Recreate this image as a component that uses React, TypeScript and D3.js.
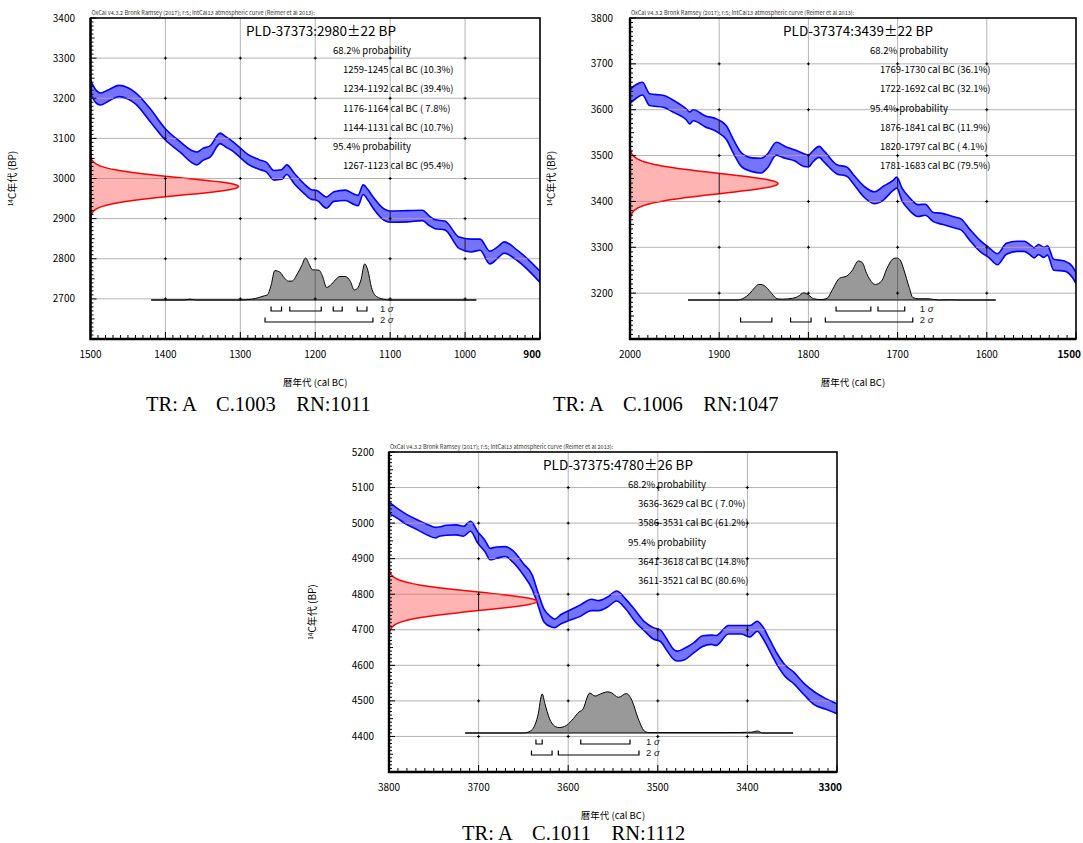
import { useEffect, useRef } from 'react';
import * as d3 from 'd3';

// ---- shared text ----
const headerText = 'OxCal v4.3.2 Bronk Ramsey (2017); r:5; IntCal13 atmospheric curve (Reimer et al 2013):';
const xAxisTitle = '暦年代 (cal BC)';

// ---- panel 1 : PLD-37373 ----
const p1Title = 'PLD-37373:2980±22 BP';
const p1Date = { mean: 2980, sd: 22 };
const p1Prob68 = ['1259-1245 cal BC (10.3%)', '1234-1192 cal BC (39.4%)', '1176-1164 cal BC ( 7.8%)', '1144-1131 cal BC (10.7%)'];
const p1Prob95 = ['1267-1123 cal BC (95.4%)'];
const p1Sigma1 = [[1259, 1245], [1234, 1192], [1176, 1164], [1144, 1131]];
const p1Sigma2 = [[1267, 1123]];
const p1Caption = 'TR: A    C.1003    RN:1011';
const p1CurveYears = [1500, 1493, 1487, 1475, 1462, 1450, 1440, 1420, 1400, 1380, 1365, 1358, 1350, 1340, 1327, 1320, 1310, 1300, 1290, 1275, 1265, 1255, 1245, 1238, 1228, 1215, 1205, 1198, 1185, 1175, 1160, 1148, 1143, 1136, 1130, 1122, 1108, 1100, 1077, 1057, 1048, 1040, 1027, 1008, 992, 980, 967, 955, 948, 930, 900];
const p1CurveMid = [3228, 3205, 3198, 3208, 3218, 3212, 3200, 3157, 3110, 3078, 3055, 3050, 3060, 3068, 3100, 3092, 3080, 3064, 3048, 3035, 3028, 3008, 3010, 3022, 3000, 2975, 2960, 2958, 2940, 2955, 2958, 2948, 2945, 2972, 2960, 2938, 2910, 2905, 2906, 2908, 2895, 2886, 2883, 2840, 2833, 2835, 2803, 2818, 2828, 2808, 2755];
const p1CurveErr = [17, 16, 15, 14, 14, 14, 14, 16, 14, 13, 15, 16, 15, 14, 13, 13, 12, 12, 12, 12, 12, 12, 12, 12, 13, 12, 12, 12, 14, 12, 13, 13, 13, 12, 13, 14, 14, 14, 14, 13, 12, 11, 11, 14, 16, 14, 16, 14, 14, 13, 14];
const p1PostYears = [1419, 1375, 1367, 1360, 1300, 1285, 1275, 1268, 1264, 1259, 1254, 1247, 1241, 1236, 1231, 1224, 1218, 1213, 1208, 1204, 1195, 1190, 1185, 1178, 1172, 1167, 1160, 1153, 1148, 1144, 1139, 1134, 1130, 1125, 1118, 1109, 1100, 985];
const p1PostDens = [0, 0, 0.02, 0, 0, 0.02, 0.06, 0.1, 0.12, 0.35, 0.7, 0.66, 0.52, 0.45, 0.45, 0.62, 0.82, 1.0, 0.85, 0.72, 0.71, 0.55, 0.3, 0.38, 0.5, 0.56, 0.56, 0.44, 0.24, 0.27, 0.48, 0.86, 0.72, 0.3, 0.08, 0.02, 0, 0];

// ---- panel 2 : PLD-37374 ----
const p2Title = 'PLD-37374:3439±22 BP';
const p2Date = { mean: 3439, sd: 22 };
const p2Prob68 = ['1769-1730 cal BC (36.1%)', '1722-1692 cal BC (32.1%)'];
const p2Prob95 = ['1876-1841 cal BC (11.9%)', '1820-1797 cal BC ( 4.1%)', '1781-1683 cal BC (79.5%)'];
const p2Sigma1 = [[1769, 1730], [1722, 1692]];
const p2Sigma2 = [[1876, 1841], [1820, 1797], [1781, 1683]];
const p2Caption = 'TR: A    C.1006    RN:1047';
const p2CurveYears = [2000, 1993, 1986, 1978, 1962, 1950, 1937, 1933, 1929, 1916, 1902, 1892, 1884, 1875, 1863, 1853, 1846, 1836, 1826, 1815, 1805, 1800, 1795, 1788, 1782, 1768, 1757, 1749, 1737, 1726, 1716, 1705, 1701, 1695, 1687, 1677, 1669, 1660, 1650, 1638, 1629, 1619, 1607, 1598, 1588, 1578, 1566, 1558, 1550, 1547, 1542, 1536, 1532, 1525, 1513, 1504, 1500];
const p2CurveMid = [3629, 3640, 3646, 3622, 3618, 3606, 3590, 3582, 3588, 3575, 3565, 3550, 3520, 3491, 3480, 3478, 3488, 3515, 3507, 3500, 3490, 3488, 3498, 3508, 3497, 3470, 3465, 3447, 3420, 3408, 3418, 3435, 3441, 3415, 3395, 3380, 3382, 3366, 3362, 3355, 3350, 3327, 3302, 3289, 3274, 3297, 3302, 3302, 3292, 3288, 3295, 3289, 3293, 3262, 3259, 3246, 3233];
const p2CurveErr = [15, 15, 14, 13, 13, 13, 12, 13, 12, 12, 14, 15, 15, 15, 15, 16, 15, 14, 13, 12, 14, 13, 12, 12, 12, 10, 10, 10, 12, 13, 15, 11, 12, 14, 14, 13, 12, 10, 12, 12, 12, 12, 12, 11, 12, 12, 11, 11, 11, 11, 11, 11, 10, 12, 11, 12, 12];
const p2PostYears = [1935, 1880, 1872, 1866, 1860, 1856, 1853, 1847, 1841, 1835, 1829, 1818, 1812, 1805, 1800, 1794, 1786, 1779, 1773, 1765, 1757, 1751, 1744, 1740, 1734, 1725, 1718, 1712, 1705, 1701, 1697, 1693, 1687, 1683, 1677, 1666, 1654, 1642, 1630, 1590];
const p2PostDens = [0, 0, 0.05, 0.15, 0.3, 0.37, 0.37, 0.3, 0.15, 0.03, 0.02, 0.04, 0.08, 0.17, 0.12, 0.03, 0.01, 0.04, 0.25, 0.52, 0.57, 0.7, 0.93, 0.9, 0.6, 0.37, 0.45, 0.75, 0.98, 1.0, 0.95, 0.72, 0.3, 0.06, 0.03, 0.03, 0, 0.005, 0, 0];

// ---- panel 3 : PLD-37375 ----
const p3Title = 'PLD-37375:4780±26 BP';
const p3Date = { mean: 4780, sd: 26 };
const p3Prob68 = ['3636-3629 cal BC ( 7.0%)', '3586-3531 cal BC (61.2%)'];
const p3Prob95 = ['3641-3618 cal BC (14.8%)', '3611-3521 cal BC (80.6%)'];
const p3Sigma1 = [[3636, 3629], [3586, 3531]];
const p3Sigma2 = [[3641, 3618], [3611, 3521]];
const p3Caption = 'TR: A    C.1011    RN:1112';
const p3CurveYears = [3800, 3791, 3780, 3768, 3756, 3748, 3744, 3736, 3725, 3717, 3709, 3701, 3693, 3687, 3680, 3670, 3662, 3650, 3640, 3635, 3627, 3619, 3615, 3608, 3599, 3587, 3574, 3566, 3556, 3546, 3536, 3525, 3515, 3505, 3497, 3490, 3482, 3478, 3470, 3460, 3450, 3440, 3435, 3421, 3407, 3397, 3389, 3383, 3375, 3367, 3358, 3348, 3336, 3325, 3313, 3302, 3300];
const p3CurveMid = [5044, 5028, 5010, 4995, 4980, 4973, 4976, 4980, 4981, 4977, 4991, 4960, 4936, 4913, 4917, 4920, 4907, 4870, 4833, 4797, 4740, 4722, 4718, 4730, 4740, 4753, 4770, 4768, 4778, 4795, 4773, 4738, 4710, 4690, 4683, 4658, 4630, 4626, 4632, 4649, 4668, 4672, 4670, 4700, 4700, 4696, 4710, 4693, 4656, 4618, 4585, 4564, 4531, 4507, 4492, 4480, 4478];
const p3CurveErr = [16, 14, 14, 14, 15, 15, 13, 14, 14, 14, 14, 16, 16, 16, 16, 14, 16, 16, 20, 18, 18, 14, 12, 13, 14, 16, 16, 14, 14, 14, 14, 16, 13, 16, 16, 16, 14, 14, 16, 14, 15, 13, 14, 12, 12, 16, 14, 16, 16, 16, 16, 16, 16, 18, 15, 14, 14];
const p3PostYears = [3715, 3650, 3642, 3638, 3634, 3629, 3626, 3621, 3614, 3610, 3602, 3594, 3588, 3584, 3576, 3570, 3564, 3556, 3552, 3544, 3535, 3529, 3522, 3514, 3509, 3423, 3395, 3389, 3383, 3349];
const p3PostDens = [0, 0, 0.05, 0.15, 0.4, 0.93, 0.7, 0.35, 0.15, 0.13, 0.18, 0.35, 0.5, 0.55, 0.95, 0.88, 0.93, 0.98, 0.96, 0.85, 0.94, 0.78, 0.35, 0.03, 0.01, 0.01, 0.02, 0.05, 0, 0];

const panels = [
    {
        id: 'p1', box: { l: 90.5, r: 540, t: 18, b: 339 }, xDomain: [1500, 900], yDomain: [2600, 3400],
        title: p1Title, date: p1Date, prob68: p1Prob68, prob95: p1Prob95, sigma1: p1Sigma1, sigma2: p1Sigma2,
        curveYears: p1CurveYears, curveMid: p1CurveMid, curveErr: p1CurveErr, postYears: p1PostYears, postDens: p1PostDens,
        caption: p1Caption, titleX: 246, probX: 333, rangeX: 343, yLabelX: 75, yTitleX: 16, captionX: 146, captionY: 411, lastLabelEnd: 541,
    },
    {
        id: 'p2', box: { l: 630, r: 1076, t: 18, b: 339 }, xDomain: [2000, 1500], yDomain: [3100, 3800],
        title: p2Title, date: p2Date, prob68: p2Prob68, prob95: p2Prob95, sigma1: p2Sigma1, sigma2: p2Sigma2,
        curveYears: p2CurveYears, curveMid: p2CurveMid, curveErr: p2CurveErr, postYears: p2PostYears, postDens: p2PostDens,
        caption: p2Caption, titleX: 783, probX: 870, rangeX: 880, yLabelX: 613, yTitleX: 555, captionX: 553, captionY: 411, lastLabelEnd: 1081,
    },
    {
        id: 'p3', box: { l: 389, r: 837, t: 452, b: 772 }, xDomain: [3800, 3300], yDomain: [4300, 5200],
        title: p3Title, date: p3Date, prob68: p3Prob68, prob95: p3Prob95, sigma1: p3Sigma1, sigma2: p3Sigma2,
        curveYears: p3CurveYears, curveMid: p3CurveMid, curveErr: p3CurveErr, postYears: p3PostYears, postDens: p3PostDens,
        caption: p3Caption, titleX: 543, probX: 628, rangeX: 638, yLabelX: 374, yTitleX: 316, captionX: 462, captionY: 840, lastLabelEnd: 842,
    },
];

const FONT = '"Noto Sans CJK JP", "Noto Sans", sans-serif';

function drawPanel(svg: any, p: any) {
    const { l, r, t, b } = p.box;
    const x = d3.scaleLinear().domain(p.xDomain).range([l, r]);
    const y = d3.scaleLinear().domain(p.yDomain).range([b, t]);
    const g = svg.append('g');
    const defs = svg.append('defs');

    defs.append('clipPath').attr('id', `box-${p.id}`)
        .append('rect').attr('x', l).attr('y', t).attr('width', r - l).attr('height', b - t);

    const xTicks = d3.range(p.xDomain[0], p.xDomain[1] - 1, -100);
    const yTicks = d3.range(p.yDomain[0], p.yDomain[1] + 1, 100);
    const innerX = xTicks.slice(1, -1);
    const innerY = yTicks.slice(1, -1);

    // grey grid
    const grid = g.append('g').attr('stroke', '#b4b4b4').attr('stroke-width', 1);
    innerX.forEach((v: number) => grid.append('line').attr('x1', x(v)).attr('x2', x(v)).attr('y1', t).attr('y2', b));
    innerY.forEach((v: number) => grid.append('line').attr('x1', l).attr('x2', r).attr('y1', y(v)).attr('y2', y(v)));

    const content = g.append('g').attr('clip-path', `url(#box-${p.id})`);

    // calibration curve band
    const band = p.curveYears.map((yr: number, i: number) => ({ yr, lo: p.curveMid[i] - p.curveErr[i], hi: p.curveMid[i] + p.curveErr[i] }));
    const bandArea = d3.area<any>().x(d => x(d.yr)).y0(d => y(d.lo)).y1(d => y(d.hi)).curve(d3.curveMonotoneX);
    const bandPath = bandArea(band) || '';
    content.append('path').attr('d', bandPath).attr('fill', '#7474ff').attr('stroke', '#0000ff').attr('stroke-width', 1.6);

    // measured radiocarbon date (normal on y axis)
    const { mean, sd } = p.date;
    const peakW = 148;
    const pts = d3.range(mean - 4 * sd, mean + 4 * sd + 0.01, sd / 12).map(v => ({ v, d: Math.exp(-0.5 * ((v - mean) / sd) ** 2) }));
    const redArea = d3.area<any>().y(d => y(d.v)).x0(l).x1(d => l + d.d * peakW);
    const redPath = redArea(pts) || '';
    content.append('path').attr('d', redPath).attr('fill', '#ffb4b4');

    // calibrated posterior
    const base = b - 39;
    const postH = 42;
    const post = p.postYears.map((yr: number, i: number) => ({ yr, d: p.postDens[i] }));
    const postArea = d3.area<any>().x(d => x(d.yr)).y0(base).y1(d => base - d.d * postH).curve(d3.curveMonotoneX);
    const postPath = postArea(post) || '';
    content.append('path').attr('d', postPath).attr('fill', '#999999');

    // grid lines seen through the filled shapes
    const fillClip = defs.append('clipPath').attr('id', `fills-${p.id}`);
    [bandPath, redPath].forEach(d => fillClip.append('path').attr('d', d));
    const dark = g.append('g').attr('clip-path', `url(#fills-${p.id})`).attr('stroke', '#1a1a1a').attr('stroke-width', 1);
    innerX.forEach((v: number) => dark.append('line').attr('x1', x(v)).attr('x2', x(v)).attr('y1', t).attr('y2', b));
    innerY.forEach((v: number) => dark.append('line').attr('x1', l).attr('x2', r).attr('y1', y(v)).attr('y2', y(v))
        .attr('stroke', '#c89090'));
    defs.append('clipPath').attr('id', `post-${p.id}`).append('path').attr('d', postPath);
    const pg = g.append('g').attr('clip-path', `url(#post-${p.id})`).attr('stroke', '#6a6a6a').attr('stroke-width', 1);
    innerX.forEach((v: number) => pg.append('line').attr('x1', x(v)).attr('x2', x(v)).attr('y1', t).attr('y2', b));

    // outlines on top
    content.append('path')
        .attr('d', d3.line<any>().x(d => l + d.d * peakW).y(d => y(d.v))(pts) || '')
        .attr('fill', 'none').attr('stroke', '#ff0000').attr('stroke-width', 1.5);
    content.append('path')
        .attr('d', d3.line<any>().x(d => x(d.yr)).y(d => base - d.d * postH).curve(d3.curveMonotoneX)(post) || '')
        .attr('fill', 'none').attr('stroke', '#000').attr('stroke-width', 1);
    content.append('line')
        .attr('x1', x(p.postYears[0])).attr('x2', x(p.postYears[p.postYears.length - 1]))
        .attr('y1', base).attr('y2', base).attr('stroke', '#000').attr('stroke-width', 1.2);

    // small crosses at grid intersections
    const cross = g.append('g').attr('stroke', '#000').attr('stroke-width', 1);
    innerX.forEach((xv: number) => innerY.forEach((yv: number) => {
        cross.append('line').attr('x1', x(xv) - 1.5).attr('x2', x(xv) + 1.5).attr('y1', y(yv)).attr('y2', y(yv));
        cross.append('line').attr('x1', x(xv)).attr('x2', x(xv)).attr('y1', y(yv) - 1.5).attr('y2', y(yv) + 1.5);
    }));

    // sigma range brackets
    const brk = g.append('g').attr('stroke', '#000').attr('stroke-width', 1.2).attr('fill', 'none');
    const drawBr = (ranges: number[][], yy: number) => ranges.forEach(([a, c]) => {
        brk.append('path').attr('d', `M${x(a)},${yy - 4.5}V${yy}H${x(c)}V${yy - 4.5}`);
    });
    const y1s = base + 11;
    const y2s = base + 22;
    drawBr(p.sigma1, y1s);
    drawBr(p.sigma2, y2s);
    const lastEnd = d3.max(p.sigma2, (d: number[]) => x(d[1])) as number;
    [[1, y1s], [2, y2s]].forEach(([n, yy]) => {
        const tx = g.append('text').attr('x', lastEnd + 7).attr('y', yy + 0.5)
            .attr('font-family', '"Liberation Sans", Arial, sans-serif').attr('font-size', 9.5).attr('fill', '#222');
        tx.append('tspan').text(`${n} `);
        tx.append('tspan').attr('font-style', 'italic').text('σ');
    });

    // axis ticks
    const ticks = g.append('g').attr('stroke', '#000').attr('stroke-width', 1);
    d3.range(p.yDomain[0], p.yDomain[1] + 1, 10).forEach(v => {
        const len = v % 100 === 0 ? 6 : v % 50 === 0 ? 4 : 3;
        ticks.append('line').attr('x1', l).attr('x2', l + len).attr('y1', y(v)).attr('y2', y(v));
    });
    d3.range(p.xDomain[1], p.xDomain[0] + 1, 10).forEach(v => {
        const len = v % 100 === 0 ? 7 : 4;
        ticks.append('line').attr('x1', x(v)).attr('x2', x(v)).attr('y1', b).attr('y2', b - len);
    });

    // frame
    g.append('rect').attr('x', l).attr('y', t).attr('width', r - l).attr('height', b - t)
        .attr('fill', 'none').attr('stroke', '#000').attr('stroke-width', 1.6);
    g.append('path').attr('d', `M${l},${t}V${b}H${r}`).attr('fill', 'none').attr('stroke', '#000').attr('stroke-width', 2.4);

    // tick labels
    const lab = g.append('g').attr('font-family', FONT).attr('font-size', 10).attr('fill', '#000');
    yTicks.slice(1).forEach((v: number) => {
        lab.append('text').attr('x', p.yLabelX).attr('y', y(v) + 3.5).attr('text-anchor', 'end').text(v);
    });
    xTicks.forEach((v: number, i: number) => {
        const last = i === xTicks.length - 1;
        lab.append('text').attr('x', last ? p.lastLabelEnd : x(v)).attr('y', b + 19)
            .attr('text-anchor', last ? 'end' : 'middle')
            .attr('font-weight', last ? 'bold' : 'normal').text(v);
    });

    // axis titles
    lab.append('text').attr('x', (l + r) / 2).attr('y', b + 47).attr('text-anchor', 'middle').attr('font-size', 9.5).text(xAxisTitle);
    const yt = lab.append('text').attr('transform', `translate(${p.yTitleX},${(t + b) / 2}) rotate(-90)`)
        .attr('text-anchor', 'middle').attr('font-size', 10).attr('dy', 4);
    yt.append('tspan').attr('font-size', 6.5).attr('dy', -3).text('14');
    yt.append('tspan').attr('dy', 3).text('C年代 (BP)');

    // header and title
    g.append('text').attr('x', l + 1).attr('y', t - 3).attr('font-family', FONT).attr('font-size', 5.6)
        .attr('fill', '#333').text(headerText);
    g.append('text').attr('x', p.titleX).attr('y', t + 18).attr('font-family', FONT).attr('font-size', 13.5)
        .attr('fill', '#000').text(p.title);

    const lines = [
        { text: '68.2% probability', x: p.probX },
        ...p.prob68.map((s: string) => ({ text: s, x: p.rangeX })),
        { text: '95.4% probability', x: p.probX },
        ...p.prob95.map((s: string) => ({ text: s, x: p.rangeX })),
    ];
    lines.forEach((ln, i) => {
        g.append('text').attr('x', ln.x).attr('y', t + 36 + i * 19.2).attr('font-family', FONT).attr('font-size', 9.5)
            .attr('fill', '#000').style('white-space', 'pre').text(ln.text);
    });

    // caption
    svg.append('text').attr('x', p.captionX).attr('y', p.captionY)
        .attr('font-family', '"Liberation Serif", "Times New Roman", serif').attr('font-size', 20.5)
        .attr('fill', '#000').style('white-space', 'pre').text(p.caption);
}

export default function App() {
    const svgRef = useRef<SVGSVGElement>(null);

    useEffect(() => {
        if (!svgRef.current) return;
        const svg = d3.select(svgRef.current);
        svg.selectAll('*').remove();
        panels.forEach(p => drawPanel(svg, p));
    }, []);

    return (
        <svg
            ref={svgRef}
            width={1083}
            height={843}
            viewBox="0 0 1083 843"
            style={{ position: 'absolute', left: 0, top: 0, background: '#ffffff' }}
        />
    );
}
